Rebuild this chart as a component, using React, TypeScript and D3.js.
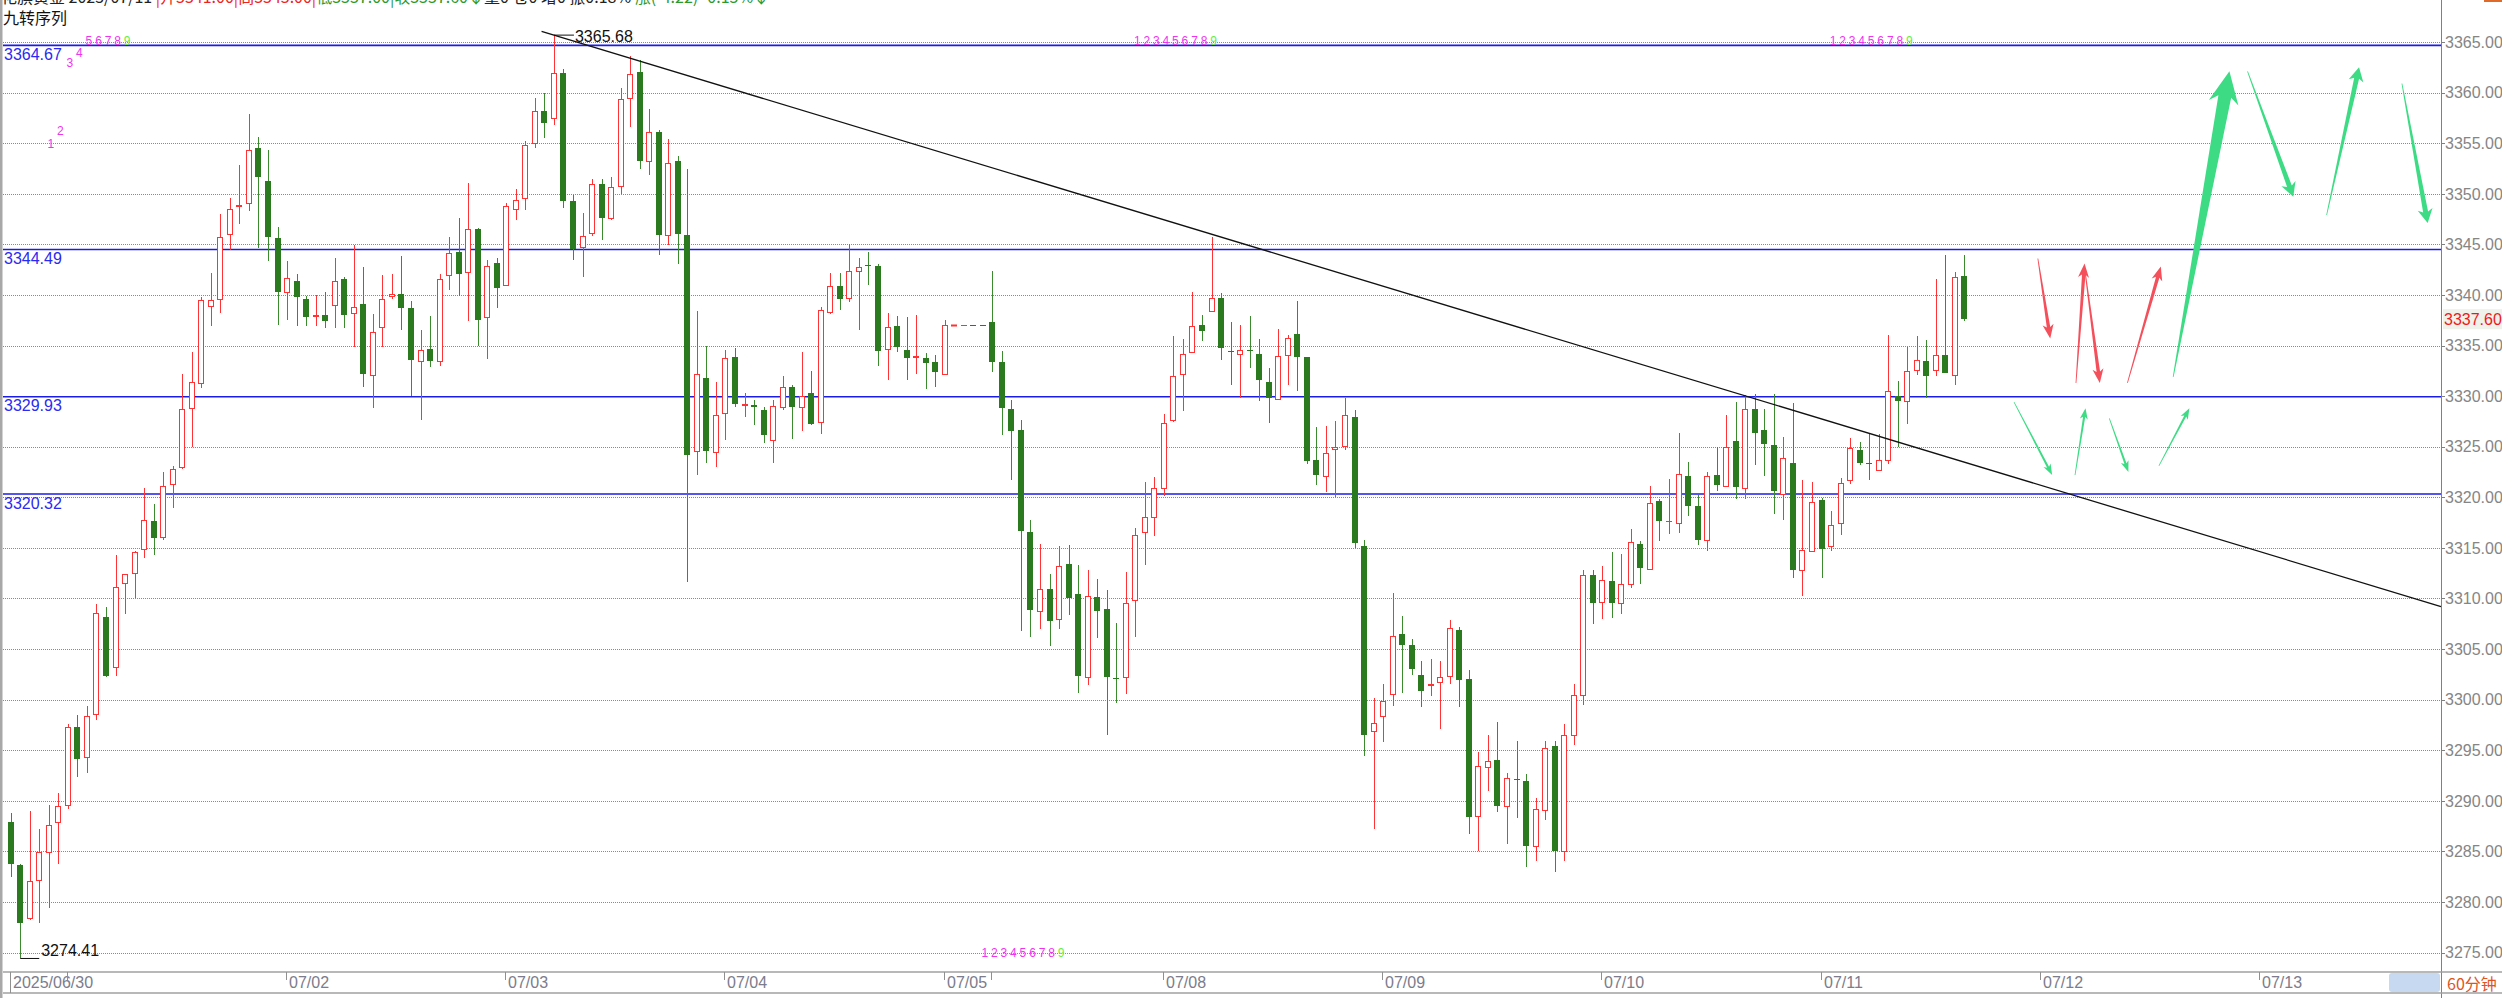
import React from 'react';
import * as d3 from 'd3';

// 60分钟 K线, 2025/06/30 - 07/11, 206 根
const opens = [
  3287.9, 3283.6, 3278.4, 3282.2, 3284.9, 3287.9, 3289.6, 3297.3, 3294.3, 3298.6,
  3308.2, 3303.2, 3311.5, 3312.5, 3314.9, 3317.7, 3316.1, 3321.3, 3323.0, 3328.8,
  3331.3, 3338.9, 3339.6, 3346.0, 3348.8, 3349.1, 3354.5, 3351.3, 3345.6, 3340.3,
  3341.4, 3339.6, 3337.9, 3338.0, 3339.0, 3341.6, 3338.2, 3339.1, 3332.1, 3336.8,
  3339.9, 3340.1, 3338.7, 3333.5, 3334.7, 3333.5, 3342.0, 3344.2, 3342.3, 3346.5,
  3337.8, 3343.2, 3341.0, 3348.5, 3349.6, 3355.0, 3358.2, 3357.5, 3361.9, 3349.3,
  3344.7, 3346.1, 3351.0, 3347.6, 3350.8, 3359.5, 3362.0, 3353.2, 3356.1, 3345.9,
  3353.2, 3345.9, 3324.6, 3331.8, 3324.5, 3328.3, 3333.9, 3329.1, 3329.1, 3328.6,
  3325.7, 3328.9, 3330.9, 3328.9, 3330.3, 3327.4, 3338.3, 3340.9, 3339.7, 3342.4,
  3342.95, 3342.9, 3334.7, 3336.9, 3334.6, 3333.9, 3333.8, 3333.4, 3332.2, 3336.95,
  3336.95, 3337.0, 3337.0, 3337.3, 3333.4, 3328.7, 3326.6, 3316.6, 3308.8, 3310.9,
  3308.0, 3313.4, 3310.4, 3302.2, 3310.1, 3309.0, 3302.1, 3302.2, 3309.8, 3316.6,
  3318.0, 3320.9, 3327.6, 3332.2, 3334.4, 3337.0, 3338.4, 3339.7, 3334.45, 3334.2,
  3334.55, 3334.2, 3331.4, 3329.7, 3334.1, 3336.1, 3333.9, 3323.7, 3322.1, 3324.75,
  3325.1, 3327.9, 3315.2, 3296.9, 3298.4, 3300.6, 3306.5, 3305.4, 3302.4, 3301.45,
  3301.7, 3302.3, 3306.9, 3302.0, 3288.5, 3293.3, 3294.0, 3289.5, 3292.15, 3292.0,
  3285.5, 3289.1, 3295.4, 3285.0, 3296.5, 3300.5, 3312.3, 3309.6, 3311.7, 3309.5,
  3311.4, 3315.4, 3312.9, 3319.6, 3317.65, 3317.5, 3322.1, 3319.1, 3315.8, 3322.2,
  3321.1, 3325.6, 3320.9, 3328.7, 3326.6, 3325.2, 3320.3, 3323.4, 3312.8, 3314.7,
  3319.7, 3315.2, 3317.5, 3321.7, 3324.7, 3323.35, 3322.7, 3323.7, 3330.0, 3329.5,
  3332.6, 3333.5, 3332.6, 3334.1, 3332.1, 3341.9,
];
const highs = [
  3288.8, 3283.7, 3289.0, 3287.2, 3289.6, 3290.8, 3297.6, 3298.5, 3299.4, 3309.4,
  3309.2, 3314.3, 3312.4, 3314.7, 3320.9, 3319.3, 3322.5, 3323.1, 3332.2, 3334.4,
  3339.8, 3342.2, 3348.0, 3349.6, 3352.8, 3357.9, 3355.6, 3354.3, 3346.7, 3343.4,
  3342.1, 3339.9, 3340.0, 3340.3, 3343.6, 3341.8, 3344.9, 3342.8, 3338.1, 3342.0,
  3342.1, 3343.8, 3339.4, 3336.5, 3337.9, 3342.1, 3345.7, 3347.6, 3351.1, 3346.6,
  3343.5, 3343.6, 3349.1, 3350.5, 3355.2, 3359.5, 3360.0, 3365.68, 3362.3, 3349.9,
  3348.1, 3351.5, 3351.5, 3351.7, 3360.5, 3363.6, 3363.2, 3358.4, 3356.3, 3355.4,
  3353.7, 3352.4, 3338.4, 3335.0, 3331.4, 3334.6, 3334.8, 3330.3, 3329.6, 3328.9,
  3329.6, 3332.0, 3331.1, 3334.4, 3332.5, 3338.8, 3342.2, 3342.2, 3345.0, 3343.6,
  3344.2, 3343.1, 3338.2, 3337.9, 3337.8, 3338.0, 3334.3, 3334.1, 3337.5, 3337.0,
  3337.0, 3337.0, 3337.0, 3342.4, 3334.5, 3329.6, 3327.6, 3317.8, 3315.4, 3312.4,
  3315.2, 3315.3, 3313.3, 3312.8, 3311.9, 3310.8, 3307.6, 3312.6, 3317.0, 3321.5,
  3322.0, 3328.2, 3335.9, 3335.6, 3340.3, 3338.0, 3345.7, 3340.2, 3337.3, 3337.0,
  3337.9, 3335.6, 3332.8, 3336.6, 3336.0, 3339.4, 3333.9, 3326.9, 3327.0, 3327.5,
  3329.8, 3328.6, 3315.8, 3300.2, 3301.5, 3310.5, 3308.3, 3306.0, 3303.8, 3304.0,
  3303.8, 3307.9, 3307.2, 3302.9, 3294.8, 3296.5, 3297.8, 3292.7, 3295.9, 3292.6,
  3290.3, 3295.9, 3295.9, 3297.6, 3301.5, 3312.8, 3312.8, 3313.2, 3314.6, 3314.4,
  3316.9, 3315.7, 3321.1, 3319.8, 3321.8, 3326.4, 3323.5, 3320.2, 3322.5, 3325.0,
  3328.1, 3329.4, 3330.1, 3330.2, 3328.7, 3330.2, 3326.0, 3329.3, 3321.7, 3321.5,
  3319.9, 3318.6, 3321.9, 3325.9, 3325.5, 3326.3, 3326.3, 3336.0, 3331.5, 3334.9,
  3335.9, 3335.5, 3341.6, 3343.9, 3342.3, 3343.9,
];
const lows = [
  3282.5, 3274.41, 3278.2, 3277.9, 3279.4, 3283.7, 3289.2, 3292.3, 3292.7, 3298.0,
  3302.2, 3302.3, 3308.5, 3310.0, 3314.0, 3314.3, 3315.8, 3318.9, 3322.8, 3325.0,
  3330.8, 3336.9, 3338.2, 3344.4, 3347.0, 3348.3, 3344.6, 3343.4, 3337.0, 3337.5,
  3336.9, 3336.9, 3336.9, 3336.7, 3336.7, 3336.7, 3334.9, 3330.9, 3328.8, 3334.9,
  3339.6, 3336.5, 3330.0, 3327.6, 3332.9, 3333.0, 3340.5, 3339.9, 3337.4, 3335.0,
  3333.7, 3338.7, 3340.9, 3347.4, 3348.4, 3354.5, 3355.5, 3356.8, 3348.6, 3343.5,
  3341.8, 3345.8, 3345.4, 3347.4, 3350.0, 3356.6, 3352.4, 3351.9, 3343.9, 3344.9,
  3343.1, 3311.6, 3322.2, 3323.4, 3323.0, 3325.7, 3328.9, 3327.9, 3327.1, 3325.4,
  3323.4, 3328.6, 3325.8, 3326.5, 3327.1, 3326.3, 3338.1, 3338.5, 3339.3, 3336.5,
  3341.0, 3333.0, 3331.6, 3334.4, 3331.6, 3332.2, 3330.7, 3330.9, 3332.1, 3336.95,
  3336.95, 3336.95, 3336.95, 3332.4, 3326.2, 3321.7, 3306.8, 3306.2, 3307.0, 3305.3,
  3307.0, 3308.4, 3300.7, 3301.4, 3306.1, 3296.5, 3299.7, 3300.6, 3306.2, 3313.3,
  3316.2, 3320.1, 3327.4, 3328.5, 3334.4, 3335.4, 3338.4, 3333.6, 3331.1, 3329.8,
  3332.8, 3329.5, 3327.3, 3329.7, 3331.1, 3330.5, 3323.3, 3321.2, 3320.5, 3320.0,
  3324.7, 3315.0, 3294.4, 3287.2, 3295.8, 3299.4, 3300.7, 3302.4, 3299.3, 3300.4,
  3297.1, 3301.5, 3299.3, 3286.7, 3285.0, 3291.0, 3288.9, 3285.7, 3288.3, 3283.5,
  3284.0, 3288.1, 3283.0, 3284.0, 3295.5, 3299.5, 3307.5, 3308.0, 3308.1, 3308.5,
  3311.0, 3311.4, 3312.9, 3315.7, 3316.4, 3316.5, 3318.1, 3315.3, 3314.7, 3320.6,
  3321.0, 3319.8, 3319.8, 3323.2, 3322.1, 3318.3, 3317.8, 3312.0, 3310.2, 3314.6,
  3312.0, 3314.7, 3316.3, 3321.3, 3323.2, 3321.7, 3322.7, 3323.3, 3325.0, 3327.2,
  3332.1, 3329.8, 3332.0, 3332.3, 3331.1, 3337.4,
];
const closes = [
  3283.7, 3277.9, 3282.1, 3284.9, 3287.6, 3289.5, 3297.3, 3294.1, 3298.4, 3308.6,
  3302.3, 3311.1, 3312.4, 3314.6, 3317.8, 3316.0, 3321.1, 3322.8, 3328.7, 3331.4,
  3339.5, 3339.5, 3345.7, 3348.5, 3348.9, 3354.3, 3351.7, 3345.7, 3340.3, 3341.7,
  3339.8, 3337.8, 3338.0, 3337.4, 3341.4, 3338.0, 3338.8, 3332.2, 3336.3, 3339.6,
  3340.1, 3338.7, 3333.6, 3334.6, 3333.5, 3341.6, 3344.1, 3342.1, 3346.5, 3337.5,
  3342.9, 3340.7, 3348.8, 3349.4, 3354.8, 3358.2, 3357.0, 3361.9, 3349.3, 3344.5,
  3345.8, 3351.0, 3347.6, 3350.7, 3359.4, 3361.8, 3353.2, 3356.1, 3345.9, 3353.0,
  3346.0, 3324.2, 3332.2, 3324.6, 3328.1, 3333.8, 3329.2, 3329.2, 3328.9, 3326.2,
  3329.0, 3330.9, 3328.9, 3330.0, 3327.2, 3338.5, 3340.9, 3339.6, 3342.4, 3342.8,
  3342.9, 3334.5, 3336.8, 3334.9, 3333.8, 3333.95, 3333.3, 3332.4, 3337.0, 3337.0,
  3337.0, 3336.95, 3336.95, 3333.4, 3328.8, 3326.5, 3316.7, 3308.9, 3310.9, 3307.8,
  3313.2, 3310.0, 3302.3, 3310.2, 3308.8, 3302.2, 3302.0, 3309.5, 3316.3, 3318.0,
  3320.9, 3327.3, 3332.0, 3334.2, 3336.9, 3336.4, 3339.7, 3334.8, 3334.4, 3334.6,
  3334.5, 3331.6, 3329.8, 3334.0, 3335.7, 3333.9, 3323.6, 3322.2, 3324.4, 3324.95,
  3328.1, 3315.5, 3296.5, 3297.7, 3299.9, 3306.3, 3305.4, 3303.0, 3300.8, 3301.5,
  3302.2, 3307.1, 3301.9, 3288.4, 3293.4, 3293.9, 3289.5, 3292.2, 3292.1, 3285.5,
  3289.2, 3295.2, 3285.0, 3296.5, 3300.5, 3312.3, 3309.5, 3311.8, 3309.5, 3311.4,
  3315.6, 3313.0, 3319.4, 3317.7, 3317.7, 3322.3, 3319.1, 3315.8, 3322.1, 3321.2,
  3325.0, 3321.0, 3328.7, 3326.4, 3325.3, 3320.6, 3323.9, 3312.8, 3314.8, 3319.5,
  3314.9, 3317.3, 3321.4, 3324.9, 3323.4, 3323.3, 3323.7, 3330.5, 3329.5, 3332.5,
  3333.6, 3332.0, 3334.1, 3332.3, 3341.8, 3337.6,
];
// 停盘时段 (画成虚线)
const flatBars = [99, 100, 101, 102];

const priceTicks = d3.range(3275, 3366, 5);
const levelLines = [3364.67, 3344.49, 3329.93, 3320.32];
const dateIdx = [0, 6, 29, 52, 75, 98, 103, 121, 144, 167, 190, 213, 236];
const dateText = ['2025/06/30', '', '07/02', '07/03', '07/04', '07/05', '', '07/08', '07/09', '07/10', '07/11', '07/12', '07/13'];

// 趋势线: 两个锚点 (K线序号, 价格)
const trendIdx = [57, 255];
const trendPrice = [3365.68, 3309.2];
const trendStartIdx = 55.7;

// 九转序列
const seqIdx = [4, 5, 6, 7, 8, 9, 10, 11, 12, 118, 119, 120, 121, 122, 123, 124, 125, 126,
  191, 192, 193, 194, 195, 196, 197, 198, 199, 102, 103, 104, 105, 106, 107, 108, 109, 110];
const seqPrice = [3354.9, 3356.2, 3362.9, 3363.9, 3365.1, 3365.1, 3365.1, 3365.1, 3365.1,
  3365.1, 3365.1, 3365.1, 3365.1, 3365.1, 3365.1, 3365.1, 3365.1, 3365.1,
  3365.1, 3365.1, 3365.1, 3365.1, 3365.1, 3365.1, 3365.1, 3365.1, 3365.1,
  3275.0, 3275.0, 3275.0, 3275.0, 3275.0, 3275.0, 3275.0, 3275.0, 3275.0];
const seqLabel = ['1', '2', '3', '4', '5', '6', '7', '8', '9'];

// 手绘预测箭头: 起点/终点 (序号, 价格)
const arrowFromIdx = [212.7, 216.7, 217.6, 222.1, 210.2, 216.6, 220.2, 225.4, 226.9, 234.7, 243.0, 250.9];
const arrowFromPrice = [3343.6, 3331.3, 3342.7, 3331.3, 3329.4, 3322.2, 3327.8, 3323.1, 3331.9, 3362.1, 3347.9, 3360.9];
const arrowToIdx = [214.0, 217.6, 219.2, 225.6, 214.2, 217.7, 222.2, 228.6, 232.8, 239.5, 246.4, 253.6];
const arrowToPrice = [3335.7, 3343.1, 3331.3, 3342.8, 3322.2, 3328.8, 3322.5, 3328.8, 3362.1, 3349.7, 3362.5, 3347.1];
const arrowKind = ['r', 'r', 'r', 'r', 'g', 'g', 'g', 'g', 'G', 'M', 'M', 'M'];

const RED = '#ff3333';
const GREEN = '#2b7a1f';
const GREEN_WICK = '#3c8a2e';
const AXIS_FONT = '"Liberation Sans", Arial, sans-serif';
const CJK_FONT = '"Noto Sans CJK SC", "Liberation Sans", sans-serif';

const arrowStyle: Record<string, { fill: string; shaft: number; headW: number; headL: number }> = {
  r: { fill: '#f4505c', shaft: 3.5, headW: 11, headL: 14 },
  g: { fill: '#3ddc84', shaft: 2.2, headW: 8, headL: 11 },
  G: { fill: '#3ddc84', shaft: 13, headW: 30, headL: 32 },
  M: { fill: '#3ddc84', shaft: 5, headW: 15, headL: 14 },
};

function arrowPoints(x0: number, y0: number, x1: number, y1: number, s: { shaft: number; headW: number; headL: number }) {
  const dx = x1 - x0, dy = y1 - y0;
  const len = Math.hypot(dx, dy);
  const ux = dx / len, uy = dy / len;
  const nx = -uy, ny = ux;
  const bx = x1 - ux * s.headL, by = y1 - uy * s.headL;
  const nb = x1 - ux * s.headL * 0.8, nby = y1 - uy * s.headL * 0.8;
  const pts = [
    [x0 + nx * 0.4, y0 + ny * 0.4],
    [nb + nx * s.shaft / 2, nby + ny * s.shaft / 2],
    [bx + nx * s.headW / 2, by + ny * s.headW / 2],
    [x1, y1],
    [bx - nx * s.headW / 2, by - ny * s.headW / 2],
    [nb - nx * s.shaft / 2, nby - ny * s.shaft / 2],
    [x0 - nx * 0.4, y0 - ny * 0.4],
  ];
  return pts.map(p => p.join(',')).join(' ');
}

export default function App() {
  const width = 2502, height = 998;
  const plotLeft = 3, plotRight = 2441, axisTop = 972, axisBottom = 993;

  const x = d3.scaleLinear().domain([0, 255]).range([10.7, plotRight]);
  const y = d3.scaleLinear().domain([3275, 3365]).range([952.5, 42]);

  const trendLine = d3.scaleLinear().domain(trendIdx).range(trendPrice);

  const candles = opens.map((o, i) => {
    const c = closes[i], h = highs[i], l = lows[i];
    const cx = Math.round(x(i));
    const up = c > o;
    const yTop = Math.round(y(Math.max(o, c)));
    const yBot = Math.round(y(Math.min(o, c)));
    const yh = Math.round(y(h)), yl = Math.round(y(l));
    const isFlat = flatBars.includes(i);
    if (isFlat) {
      return <line key={i} x1={cx - 3} x2={cx + 3} y1={yTop + 0.5} y2={yTop + 0.5} stroke={i < 101 ? RED : GREEN} strokeWidth={i === 99 ? 2 : 1} />;
    }
    if (up) {
      const bh = yBot - yTop;
      return (
        <g key={i}>
          <line x1={cx + 0.5} x2={cx + 0.5} y1={yh} y2={yTop} stroke={RED} />
          <line x1={cx + 0.5} x2={cx + 0.5} y1={yBot} y2={yl} stroke={RED} />
          {bh >= 1
            ? <rect x={cx - 2.5} y={yTop + 0.5} width={5} height={bh} fill="#fff" stroke={RED} />
            : <line x1={cx - 3} x2={cx + 3} y1={yTop + 0.5} y2={yTop + 0.5} stroke={RED} />}
        </g>
      );
    }
    return (
      <g key={i}>
        <line x1={cx + 0.5} x2={cx + 0.5} y1={yh} y2={yl} stroke={GREEN_WICK} />
        <rect x={cx - 3} y={yTop} width={6} height={Math.max(1, yBot - yTop)} fill={GREEN} />
      </g>
    );
  });

  const hiIdx = highs.indexOf(d3.max(highs) as number);
  const loIdx = lows.indexOf(d3.min(lows) as number);

  return (
    <div>
      <style>{'body{margin:0;background:#fff}'}</style>
      <svg width={width} height={height} style={{ display: 'block', background: '#fff' }}>
        {/* header */}
        <text x={1} y={3} fontFamily={CJK_FONT} fontSize={16} fill="#222">
          <tspan>花旗黄金 2025/07/11 </tspan>
          <tspan fill="#ee2222">|开3341.00|高3343.00|</tspan>
          <tspan fill="#2a9a2a">低3337.00|收3337.60↓</tspan>
          <tspan fill="#222">量0 仓0 增0 振0.18% </tspan>
          <tspan fill="#2a9a2a">涨(-4.22) -0.13%↓</tspan>
        </text>
        <text x={3} y={24} fontFamily={CJK_FONT} fontSize={16} fill="#111">九转序列</text>
        <rect x={2484} y={0} width={18} height={2} fill="#e06a2a" />

        {/* left border */}
        <rect x={0} y={0} width={2.5} height={height} fill="#a8a8a8" />

        {/* grid */}
        {priceTicks.map(p => (
          <line key={p} x1={plotLeft} x2={plotRight} y1={Math.round(y(p)) + 0.5} y2={Math.round(y(p)) + 0.5}
            stroke="#8a8a8a" strokeDasharray="1 1" />
        ))}

        {/* support / resistance lines */}
        {levelLines.map(v => (
          <g key={v}>
            <line x1={plotLeft} x2={plotRight} y1={y(v)} y2={y(v)} stroke="#1c1ce8" strokeWidth={1.6} />
            <text x={4} y={y(v) + 14.5} fontFamily={AXIS_FONT} fontSize={16} fill="#2a2af0">{v.toFixed(2)}</text>
          </g>
        ))}

        {/* candles */}
        {candles}

        {/* trend line */}
        <line x1={x(trendStartIdx)} y1={y(trendLine(trendStartIdx))} x2={x(255)} y2={y(trendLine(255))}
          stroke="#111" strokeWidth={1.3} />

        {/* extreme labels */}
        <line x1={x(hiIdx)} x2={x(hiIdx) + 20} y1={y(highs[hiIdx])} y2={y(highs[hiIdx])} stroke="#111" />
        <text x={x(hiIdx) + 21} y={y(highs[hiIdx]) + 7} fontFamily={AXIS_FONT} fontSize={16} fill="#111">
          {highs[hiIdx].toFixed(2)}
        </text>
        <line x1={x(loIdx)} x2={x(loIdx) + 19} y1={y(lows[loIdx])} y2={y(lows[loIdx])} stroke="#111" />
        <text x={x(loIdx) + 21} y={y(lows[loIdx]) - 2} fontFamily={AXIS_FONT} fontSize={16} fill="#111">
          {lows[loIdx].toFixed(2)}
        </text>

        {/* 九转序列 */}
        {seqIdx.map((idx, k) => (
          <text key={k} x={x(idx) + 2} y={y(seqPrice[k]) + 4} textAnchor="middle" fontFamily={AXIS_FONT}
            fontSize={12} fill={k % 9 === 8 ? '#66ee44' : '#ee33ee'}>{seqLabel[k % 9]}</text>
        ))}

        {/* arrows */}
        {arrowKind.map((kind, k) => {
          const st = arrowStyle[kind];
          return (
            <polygon key={k} fill={st.fill}
              points={arrowPoints(x(arrowFromIdx[k]), y(arrowFromPrice[k]), x(arrowToIdx[k]), y(arrowToPrice[k]), st)} />
          );
        })}

        {/* right axis */}
        <line x1={plotRight + 0.5} x2={plotRight + 0.5} y1={0} y2={height} stroke="#808080" />
        {priceTicks.map(p => (
          <g key={p}>
            <line x1={plotRight} x2={plotRight + 4} y1={Math.round(y(p)) + 0.5} y2={Math.round(y(p)) + 0.5} stroke="#808080" />
            <text x={plotRight + 4} y={y(p)} dy="0.36em" fontFamily={AXIS_FONT} fontSize={16} fill="#858585">{p.toFixed(2)}</text>
          </g>
        ))}
        <rect x={plotRight + 2} y={y(closes[closes.length - 1]) - 10} width={60} height={20} fill="#eef2ea" />
        <text x={plotRight + 3} y={y(closes[closes.length - 1])} dy="0.36em" fontFamily={AXIS_FONT} fontSize={16} fill="#ee1a1a">
          {closes[closes.length - 1].toFixed(2)}
        </text>

        {/* bottom axis */}
        <line x1={plotLeft} x2={width} y1={axisTop} y2={axisTop} stroke="#a0a0a0" strokeWidth={1.5} />
        <line x1={plotLeft} x2={width} y1={axisBottom} y2={axisBottom} stroke="#a0a0a0" strokeWidth={1.5} />
        {dateIdx.map((idx, k) => (
          <g key={k}>
            <line x1={Math.round(x(idx)) - 0.5} x2={Math.round(x(idx)) - 0.5} y1={axisTop} y2={k === 0 ? axisBottom : axisTop + 8} stroke="#909090" />
            {dateText[k] && (
              <text x={Math.round(x(idx)) + 2} y={988} fontFamily={AXIS_FONT} fontSize={16} fill="#7c7c8c">{dateText[k]}</text>
            )}
          </g>
        ))}
        <rect x={2389} y={973} width={51} height={19} rx={3} fill="#c6d9f1" />
        <text x={2447} y={990} fontFamily={CJK_FONT} fontSize={16} fill="#e0541e">60分钟</text>
      </svg>
    </div>
  );
}
